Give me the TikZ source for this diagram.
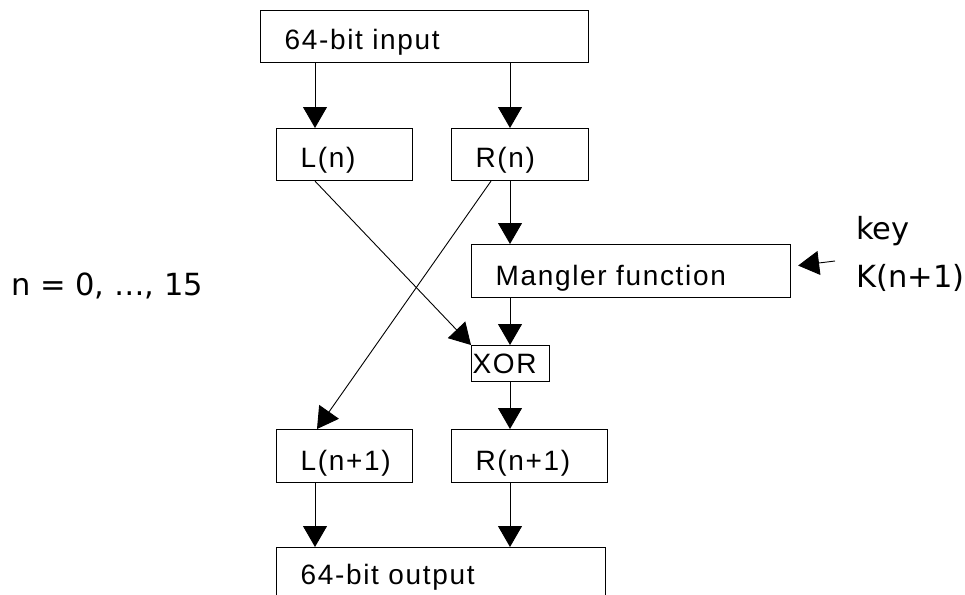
\documentclass[tikz,border=0pt]{standalone}
\usepackage{fontspec}
\setmainfont{Liberation Sans}
\newfontfamily\boxfont[LetterSpace=6]{Liberation Sans}
\newfontfamily\labfont{DejaVu Sans}
\usetikzlibrary{arrows.meta,calc}
\begin{document}
\begin{tikzpicture}[x=1pt,y=-1pt,
  bx/.style={draw, line width=1.1pt, anchor=north west, inner sep=0pt, align=left,
             font=\fontsize{28}{30}\boxfont},
  arr/.style={line width=0.9pt, -{Triangle[length=21pt,width=24pt]}},
  lab/.style={anchor=base west, inner sep=0pt, font=\fontsize{30.5}{36}\labfont}]
\useasboundingbox (0,0) rectangle (965,594);
\clip (0,0) rectangle (965,594);
% boxes
\node[bx, text width=328pt, text height=39pt, text depth=13pt] (in) at (260,10) {\hspace*{24pt}64-bit input};
\node[bx, text width=136pt, text height=39pt, text depth=13pt] (ln) at (276,128) {\hspace*{24pt}L(n)};
\node[bx, text width=137pt, text height=39pt, text depth=13pt] (rn) at (451,128) {\hspace*{24pt}R(n)};
\node[bx, text width=319pt, text height=41pt, text depth=12pt] (mg) at (471,244) {\hspace*{24pt}Mangler function};
\node[bx, text width=78pt, text height=28pt, text depth=8pt] (xor) at (471,345) {\hspace*{1pt}XOR};
\node[bx, text width=136pt, text height=41pt, text depth=12pt] (ln1) at (276,429) {\hspace*{24pt}L(n+1)};
\node[bx, text width=156pt, text height=41pt, text depth=12pt] (rn1) at (451,429) {\hspace*{24pt}R(n+1)};
\node[bx, text width=329pt, text height=37pt, text depth=15pt] (out) at (276,547) {\hspace*{24pt}64-bit output};
% labels
\node[lab] (nlab) at (11,295) {n = 0, …, 15};
\node[lab] (key) at (856,239) {key};
\node[lab] (kn) at (856,287) {K(n+1)};
% columns
\coordinate (cl) at (315,0);
\coordinate (cr) at (510,0);
\coordinate (cd) at (491,0);
\coordinate (kt) at (835,261);
% connectors
\draw[arr] (in.south -| cl) -- (ln.north -| cl);
\draw[arr] (in.south -| cr) -- (rn.north -| cr);
\draw[arr] (rn.south -| cr) -- (mg.north -| cr);
\draw[arr] (mg.south -| cr) -- (xor.north -| cr);
\draw[arr] (xor.south -| cr) -- (rn1.north -| cr);
\draw[arr] (ln1.south -| cl) -- (out.north -| cl);
\draw[arr] (rn1.south -| cr) -- (out.north -| cr);
\draw[arr] (ln.south -| cl) -- (xor.north west);
\draw[arr] (rn.south -| cd) -- ([xshift=2pt]ln1.north -| cl);
\draw[arr] (kt) -- ([xshift=7pt,yshift=5.5pt]mg.east);
\end{tikzpicture}
\end{document}
